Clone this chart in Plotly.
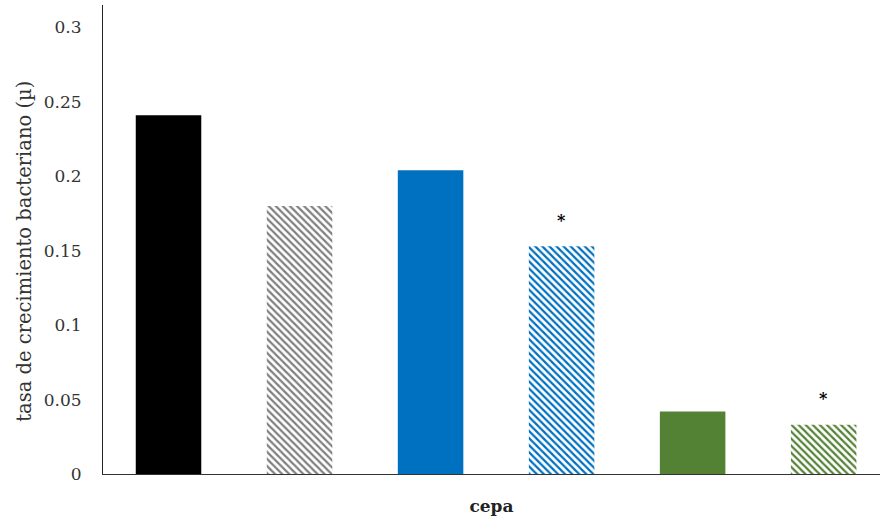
import plotly.graph_objects as go

# Bacterial growth rate per strain (solid = control, hatched = treatment)
cepas = ["A", "A*", "B", "B*", "C", "C*"]
tasa = [0.241, 0.180, 0.204, 0.153, 0.042, 0.033]
colores = ["#000000", "#7f7f7f", "#0070C0", "#0070C0", "#548235", "#548235"]
rayado = ["", "\\", "", "\\", "", "\\"]
significativo = [False, False, False, True, False, True]

y_ticks = [0, 0.05, 0.1, 0.15, 0.2, 0.25, 0.3]
y_tick_text = ["0", "0.05", "0.1", "0.15", "0.2", "0.25", "0.3"]
y_title = "tasa de crecimiento bacteriano (µ)"

fig = go.Figure()
for i, (v, c, r) in enumerate(zip(tasa, colores, rayado)):
    fig.add_trace(go.Bar(
        x=[i],
        y=[v],
        width=0.5,
        marker=dict(
            color=c,
            line=dict(width=0),
            pattern=dict(shape=r, bgcolor="white", fgcolor=c,
                         size=5, solidity=0.45, fillmode="replace"),
        ),
        hoverinfo="skip",
    ))

for i, (v, s) in enumerate(zip(tasa, significativo)):
    if s:
        fig.add_annotation(x=i, y=v, text="<b>*</b>", showarrow=False, yshift=26,
                           font=dict(size=16, color="black", family="DejaVu Serif"))

# rotated y-axis title placed as a paper annotation
fig.add_annotation(
    xref="paper", yref="paper", x=-0.101, y=0.475,
    text=y_title, textangle=-90, showarrow=False,
    xanchor="center", yanchor="middle",
    font=dict(size=19.5, family="DejaVu Serif", color="#333333"),
)

fig.update_layout(
    width=880, height=519,
    margin=dict(l=103, r=0, t=5, b=45),
    paper_bgcolor="white", plot_bgcolor="white",
    showlegend=False,
    barmode="overlay",
    font=dict(family="DejaVu Serif", color="#222222"),
)
fig.update_xaxes(
    range=[-0.5, 5.43], showticklabels=False, ticks="",
    showline=True, linecolor="#333333", linewidth=1,
    showgrid=False, zeroline=False,
    title=dict(text="<b>cepa</b>", font=dict(size=17, family="DejaVu Serif"), standoff=26),
)
fig.update_yaxes(
    range=[0, 0.315], tickvals=y_ticks, ticktext=y_tick_text,
    showline=True, linecolor="#222222", linewidth=1,
    showgrid=False, zeroline=False, ticks="",
    ticklabelstandoff=17,
    tickfont=dict(size=17, family="DejaVu Serif", color="#333333"),
)

fig.write_html("out.html")
